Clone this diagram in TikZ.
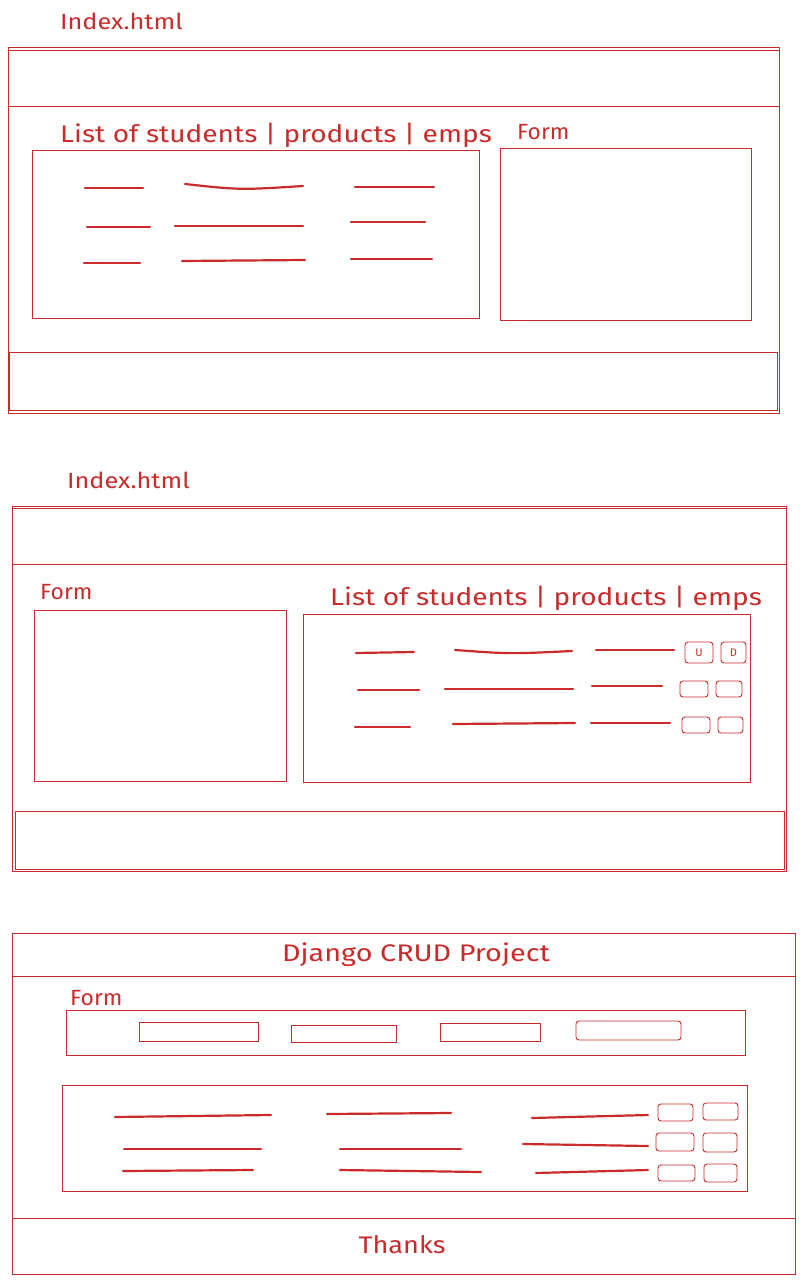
\documentclass[tikz,border=0pt]{standalone}
\usepackage{fontspec}
\setmainfont{Fira Sans}
\definecolor{ink}{HTML}{C92A2A}
\newcommand{\stretchx}[2]{\scalebox{#1}[1]{#2}}
\tikzset{
  frame/.style={draw=ink, line width=0.9pt},
  btn/.style={draw=ink, line width=0.9pt, rounded corners=3pt},
  row/.style={draw=ink, line width=2.2pt, line cap=round},
  lbl/.style={text=ink, inner sep=0pt, anchor=west},
  big/.style={font=\fontsize{24}{28}\selectfont},
  mid/.style={font=\fontsize{22}{26}\selectfont},
}
\begin{document}
\begin{tikzpicture}[x=1pt,y=-1pt]
\useasboundingbox (0,0) rectangle (802,1280);

% ---------- first layout: list left, form right ----------
\node[lbl, mid] (t1) at (60,21) {\stretchx{1.15}{Index.html}};
\draw[frame] (8,47) rectangle (779,413);
\draw[frame] (8,50) rectangle (779,106);
\draw[frame] (9,352) rectangle (777,410);
\node[lbl, big] (l1) at (60,135) {\stretchx{1.17}{List of students | products | emps}};
\node[lbl, mid] (f1) at (517,132) {\stretchx{1.04}{Form}};
\draw[frame] (32,150) rectangle (479,318);
\draw[frame] (500,148) rectangle (751,320);
\draw[row] (85,188) -- (143,188);
\draw[row] (185,184) .. controls (240,190) .. (303,186);
\draw[row] (355,187) -- (434,187);
\draw[row] (87,227) -- (150,227);
\draw[row] (175,226) -- (303,226);
\draw[row] (351,222) -- (425,222);
\draw[row] (84,263) -- (140,263);
\draw[row] (182,261) -- (305,260);
\draw[row] (351,259) -- (432,259);

% ---------- second layout: form left, list right ----------
\node[lbl, mid] (t2) at (67,480) {\stretchx{1.15}{Index.html}};
\draw[frame] (12,506) rectangle (786,871);
\draw[frame] (12,508) rectangle (786,564);
\draw[frame] (15,811) rectangle (784,869);
\node[lbl, mid] (f2) at (40,592) {\stretchx{1.04}{Form}};
\node[lbl, big] (l2) at (330,598) {\stretchx{1.17}{List of students | products | emps}};
\draw[frame] (34,610) rectangle (286,781);
\draw[frame] (303,614) rectangle (750,782);
\draw[row] (356,653) -- (414,652);
\draw[row] (455,650) .. controls (510,654) .. (572,651);
\draw[row] (596,650) -- (674,650);
\draw[btn] (685,642) rectangle (713,663);
\draw[btn] (721,642) rectangle (746,663);
\node[text=ink, font=\fontsize{11}{13}\selectfont] (bu) at (699,652.5) {U};
\node[text=ink, font=\fontsize{11}{13}\selectfont] (bd) at (733.5,652.5) {D};
\draw[row] (358,690) -- (419,690);
\draw[row] (445,689) -- (573,689);
\draw[row] (592,686) -- (662,686);
\draw[btn] (680,681) rectangle (708,697);
\draw[btn] (716,681) rectangle (742,697);
\draw[row] (355,727) -- (410,727);
\draw[row] (453,724) -- (575,723);
\draw[row] (591,723) -- (670,723);
\draw[btn] (682,717) rectangle (710,733);
\draw[btn] (718,717) rectangle (743,733);

% ---------- third layout: full page ----------
\draw[frame] (12,933) rectangle (795,1274);
\draw[frame] (12,933) rectangle (795,976);
\node[text=ink, big] (title) at (416,955) {\stretchx{1.2}{Django CRUD Project}};
\node[lbl, mid] (f3) at (70,998) {\stretchx{1.04}{Form}};
\draw[frame] (66,1010) rectangle (745,1055);
\draw[frame] (139,1022) rectangle (258,1041);
\draw[frame] (291,1025) rectangle (396,1042);
\draw[frame] (440,1023) rectangle (540,1041);
\draw[btn] (576,1021) rectangle (681,1040);
\draw[frame] (62,1085) rectangle (747,1191);
\draw[row] (115,1117) -- (271,1115);
\draw[row] (327,1114) -- (451,1113);
\draw[row] (532,1118) -- (648,1115);
\draw[btn] (658,1104) rectangle (693,1121);
\draw[btn] (703,1103) rectangle (738,1120);
\draw[row] (124,1149) -- (261,1149);
\draw[row] (340,1149) -- (461,1149);
\draw[row] (523,1144) -- (648,1146);
\draw[btn] (656,1133) rectangle (694,1151);
\draw[btn] (703,1133) rectangle (737,1152);
\draw[row] (123,1171) -- (253,1170);
\draw[row] (340,1170) -- (481,1172);
\draw[row] (536,1173) -- (648,1170);
\draw[btn] (658,1165) rectangle (695,1181);
\draw[btn] (704,1164) rectangle (737,1182);
\draw[frame] (12,1218) rectangle (795,1274);
\node[text=ink, big] (thanks) at (402,1245) {\stretchx{1.13}{Thanks}};
\end{tikzpicture}
\end{document}
